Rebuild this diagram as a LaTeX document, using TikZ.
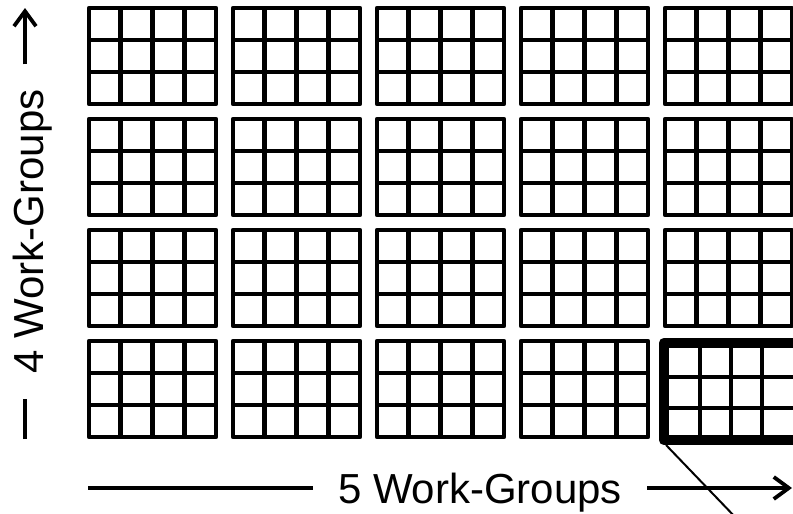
\documentclass[tikz,border=0pt]{standalone}
\usepackage{fontspec}
\setmainfont{Liberation Sans}
\usetikzlibrary{arrows.meta,calc}
\tikzset{
  blk/.style={line width=4.8pt, line join=round},
  thickblk/.style={line width=10.5pt, line join=round},
  axisline/.style={line width=3.8pt},
  axisarrow/.style={line width=3.8pt, -{Straight Barb[length=15pt,width=22pt,line width=3.8pt]}},
  lbl/.style={font=\fontsize{42}{50}\selectfont, inner ysep=0pt, inner xsep=25pt},
  pointer/.style={line width=2pt},
}
\begin{document}
\begin{tikzpicture}[x=1pt,y=-1pt]
\useasboundingbox (0,0) rectangle (793,514);
\clip (0,0) rectangle (793,514);
\fill[white] (0,0) rectangle (793,514);
% thin work-group blocks
\foreach \c in {0,...,4}{
  \foreach \r in {0,...,3}{
    \pgfmathtruncatemacro\isthick{(\c==4)&&(\r==3)}
    \ifnum\isthick=0
      \draw[blk] ({89+144*\c},{8+111*\r}) rectangle ++(127,96);
      \foreach \i in {1,2,3}
        \draw[blk] ({89+144*\c+31.75*\i},{8+111*\r}) -- ++(0,96);
      \foreach \j in {1,2}
        \draw[blk] ({89+144*\c},{8+111*\r+32*\j}) -- ++(127,0);
    \fi
  }
}
% pointer line
\coordinate (p0) at (666,445);
\coordinate (p1) at (762,545);
\draw[pointer] (p0) -- (p1);
% highlighted block
\foreach \x in {700,731,762}
  \draw[blk] (\x,343) -- (\x,440);
\foreach \y in {377,408}
  \draw[blk] (664,\y) -- (798,\y);
\draw[thickblk] (664,343) rectangle (798,440);
% horizontal axis
\coordinate (hs) at (88,488);
\coordinate (he) at (792,488);
\node[lbl, anchor=base] (htext) at (480,503) {5 Work-Groups};
\draw[axisline] (hs) -- (hs -| htext.west);
\draw[axisarrow] (htext.east |- he) -- (he);
% vertical axis
\coordinate (vs) at (25,439);
\coordinate (ve) at (25,8);
\node[lbl, rotate=90, anchor=base] (vtext) at (43,231.5) {4 Work-Groups};
\draw[axisline] (vs) -- (vs |- vtext.west);
\draw[axisarrow] (ve |- vtext.east) -- (ve);
\end{tikzpicture}
\end{document}
